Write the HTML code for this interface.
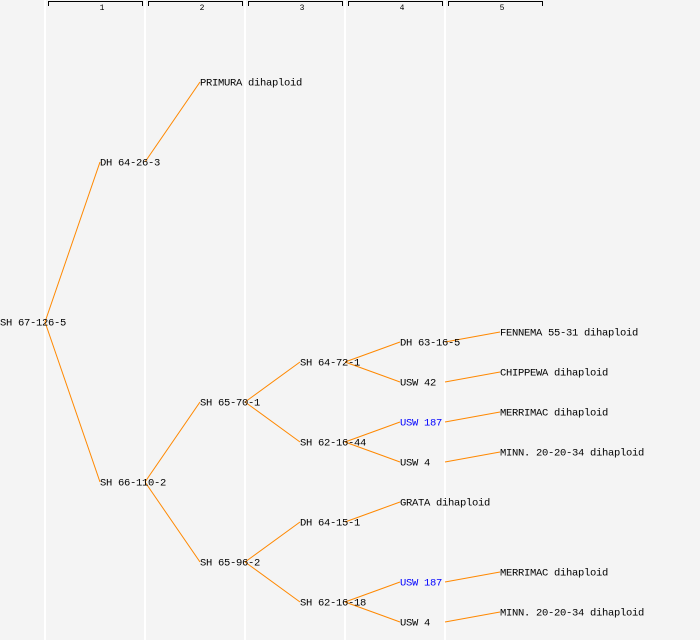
<!DOCTYPE html>
<html><head><style>
body{margin:0;background:#f4f4f4;}
svg{display:block;font-family:"Liberation Mono","DejaVu Sans Mono",monospace;}
</style></head><body>
<svg width="700" height="640" xmlns="http://www.w3.org/2000/svg">
<rect width="700" height="640" fill="#f4f4f4"/>
<g fill="#ffffff">
<rect x="44" y="0" width="2" height="640"/><rect x="144" y="0" width="2" height="640"/>
<rect x="244" y="0" width="2" height="640"/><rect x="344" y="0" width="2" height="640"/>
<rect x="444" y="0" width="2" height="640"/>
</g>
<g stroke="#000" fill="none" stroke-width="1">
<path d="M48.5 6V1.5H142.5V6"/><path d="M148.5 6V1.5H242.5V6"/><path d="M248.5 6V1.5H342.5V6"/>
<path d="M348.5 6V1.5H442.5V6"/><path d="M448.5 6V1.5H542.5V6"/>
</g>
<g font-size="8" text-anchor="middle" fill="#000">
<text x="102" y="10">1</text><text x="202" y="10">2</text><text x="302" y="10">3</text><text x="402" y="10">4</text><text x="502" y="10">5</text>
</g>
<g stroke="#ff8800" stroke-width="1" fill="none">
<line x1="45" y1="322" x2="100" y2="162"/><line x1="45" y1="322" x2="100" y2="482"/>
<line x1="145" y1="162" x2="200" y2="82"/>
<line x1="145" y1="482" x2="200" y2="402"/><line x1="145" y1="482" x2="200" y2="562"/>
<line x1="245" y1="402" x2="300" y2="362"/><line x1="245" y1="402" x2="300" y2="442"/>
<line x1="245" y1="562" x2="300" y2="522"/><line x1="245" y1="562" x2="300" y2="602"/>
<line x1="345" y1="362" x2="400" y2="342"/><line x1="345" y1="362" x2="400" y2="382"/>
<line x1="345" y1="442" x2="400" y2="422"/><line x1="345" y1="442" x2="400" y2="462"/>
<line x1="345" y1="522" x2="400" y2="502"/>
<line x1="345" y1="602" x2="400" y2="582"/><line x1="345" y1="602" x2="400" y2="622"/>
<line x1="445" y1="342" x2="500" y2="332"/><line x1="445" y1="382" x2="500" y2="372"/>
<line x1="445" y1="422" x2="500" y2="412"/><line x1="445" y1="462" x2="500" y2="452"/>
<line x1="445" y1="582" x2="500" y2="572"/><line x1="445" y1="622" x2="500" y2="612"/>
</g>
<g font-size="10.5" fill="#000" dominant-baseline="central" transform="translate(0,1.5)" letter-spacing="-0.3">
<text x="0" y="322">SH 67-126-5</text>
<text x="100" y="162">DH 64-26-3</text><text x="100" y="482">SH 66-110-2</text>
<text x="200" y="82">PRIMURA dihaploid</text><text x="200" y="402">SH 65-70-1</text><text x="200" y="562">SH 65-96-2</text>
<text x="300" y="362">SH 64-72-1</text><text x="300" y="442">SH 62-16-44</text>
<text x="300" y="522">DH 64-15-1</text><text x="300" y="602">SH 62-16-18</text>
<text x="400" y="342">DH 63-16-5</text><text x="400" y="382">USW 42</text>
<text x="400" y="422" fill="#0000ff">USW 187</text><text x="400" y="462">USW 4</text>
<text x="400" y="502">GRATA dihaploid</text>
<text x="400" y="582" fill="#0000ff">USW 187</text><text x="400" y="622">USW 4</text>
<text x="500" y="332">FENNEMA 55-31 dihaploid</text><text x="500" y="372">CHIPPEWA dihaploid</text>
<text x="500" y="412">MERRIMAC dihaploid</text><text x="500" y="452">MINN. 20-20-34 dihaploid</text>
<text x="500" y="572">MERRIMAC dihaploid</text><text x="500" y="612">MINN. 20-20-34 dihaploid</text>
</g>
</svg>
</body></html>
